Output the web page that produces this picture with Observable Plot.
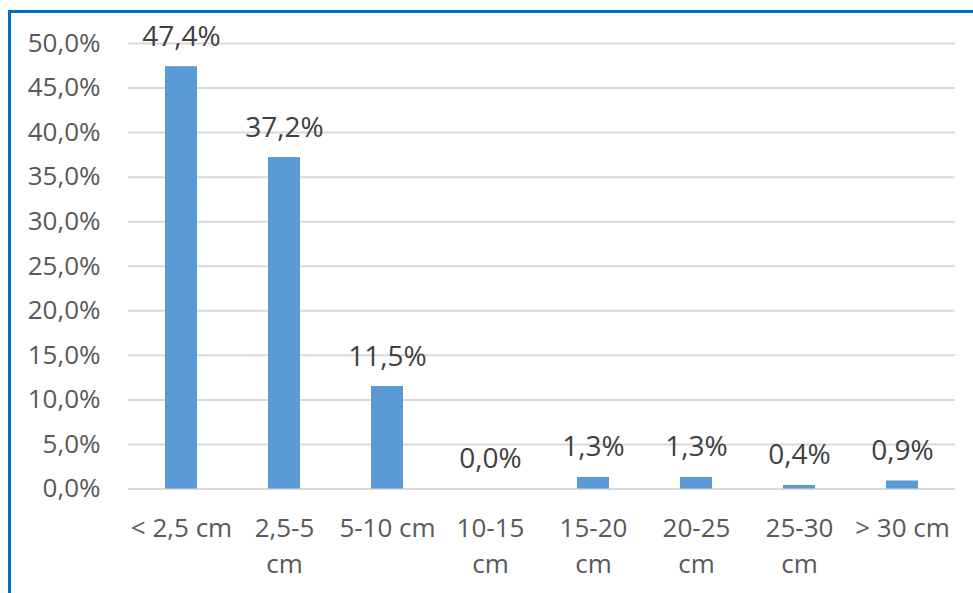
<!DOCTYPE html>
<html>
<head>
<meta charset="utf-8">
<script src="https://cdn.jsdelivr.net/npm/d3@7"></script>
<script src="https://cdn.jsdelivr.net/npm/@observablehq/plot@0.6"></script>
<style>
  html, body { margin: 0; padding: 0; background: #fff; }
  #wrap { position: relative; width: 973px; height: 593px; overflow: hidden; }
  #border { position: absolute; left: 8px; top: 10px; width: 1000px; height: 700px;
            border-left: 3px solid #0070C0; border-top: 3px solid #0070C0; }
  #chart { position: absolute; left: 0; top: 0; }
</style>
</head>
<body>
<div id="wrap"><div id="border"></div><div id="chart"></div></div>
<script>
const categories = ["< 2,5 cm", "2,5-5 cm", "5-10 cm", "10-15 cm", "15-20 cm", "20-25 cm", "25-30 cm", "> 30 cm"];
const tickLabels = ["< 2,5 cm", "2,5-5\ncm", "5-10 cm", "10-15\ncm", "15-20\ncm", "20-25\ncm", "25-30\ncm", "> 30 cm"];
const values = [47.4, 37.2, 11.5, 0.0, 1.3, 1.3, 0.4, 0.9];
const yTicks = [0, 5, 10, 15, 20, 25, 30, 35, 40, 45, 50];

const data = categories.map((c, i) => ({cat: c, value: values[i]}));
const fmt = v => v.toFixed(1).replace(".", ",") + "%";
const tickMap = new Map(categories.map((c, i) => [c, tickLabels[i]]));

const chart = Plot.plot({
  width: 973,
  height: 593,
  marginLeft: 128,
  marginRight: 18,
  marginTop: 43,
  marginBottom: 104.5,
  style: {fontFamily: "'Open Sans', sans-serif", background: "transparent", overflow: "visible"},
  x: {domain: categories, paddingInner: 0.69, paddingOuter: 0.345, align: 0.5, label: null},
  y: {domain: [0, 50], label: null},
  marks: [
    Plot.gridY(yTicks, {stroke: "#d9d9d9", strokeOpacity: 1, strokeWidth: 2}),
    Plot.barY(data, {x: "cat", y: "value", fill: "#5B9BD5"}),
    Plot.text(data, {x: "cat", y: "value", text: d => fmt(d.value), dy: -30, fontSize: 28, fill: "#404040"}),
    Plot.axisY(yTicks, {tickSize: 0, tickPadding: 28, tickFormat: d => d.toFixed(1).replace(".", ",") + "%", fontSize: 26, fill: "#595959", label: null}),
    Plot.axisX({tickSize: 0, tickPadding: 22, tickFormat: d => tickMap.get(d), fontSize: 26, fill: "#595959", lineHeight: 1.4, label: null})
  ]
});
document.getElementById("chart").appendChild(chart);
</script>
</body>
</html>
